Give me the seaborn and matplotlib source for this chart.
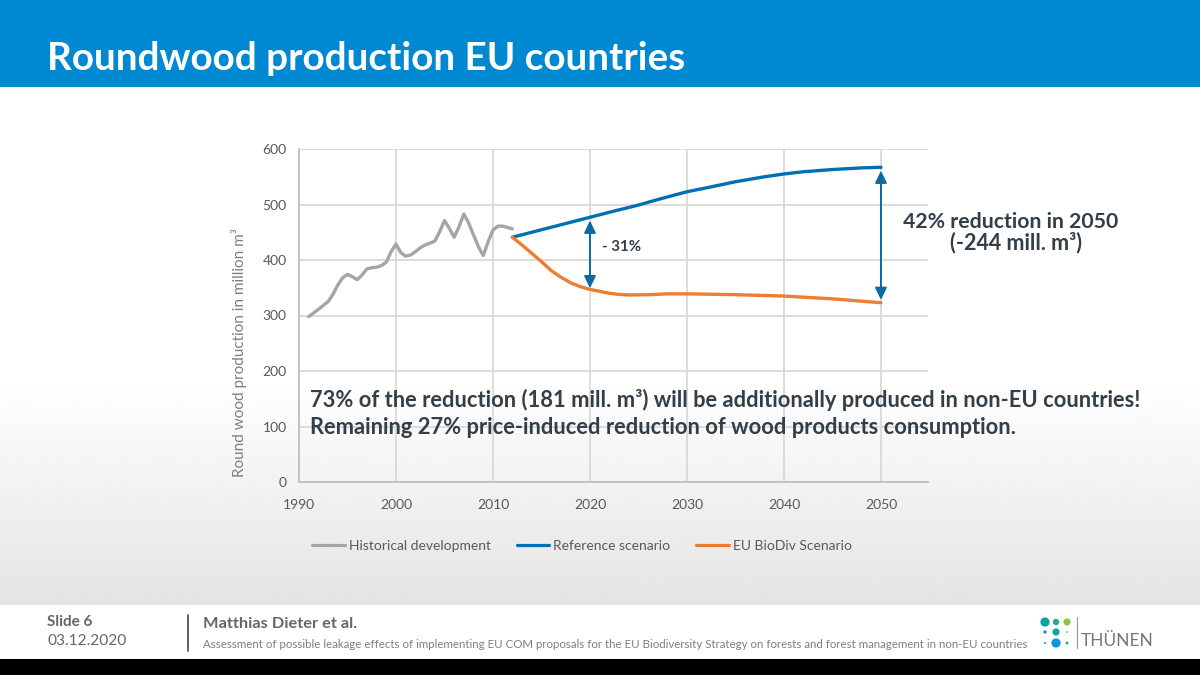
import numpy as np
import pandas as pd
import matplotlib
matplotlib.use("Agg")
import matplotlib.pyplot as plt
from matplotlib.lines import Line2D
from matplotlib.patches import Rectangle
import seaborn as sns

# values
hist_years = [1991, 1992, 1993, 1993.5, 1994, 1994.5, 1995, 1995.5, 1996, 1996.5, 1997, 1997.5, 1998, 1998.5,
              1999, 1999.5, 2000, 2000.5, 2001, 2001.5, 2002, 2002.5, 2003, 2004, 2004.5, 2005, 2005.5,
              2006, 2006.5, 2007, 2007.5, 2008, 2008.5, 2009, 2009.5, 2010, 2010.5, 2011, 2012]
hist_values = [298, 311, 325, 338, 355, 368, 374, 370, 364.5, 373, 384, 386, 387, 390,
               396, 415, 429, 413, 407, 409, 415, 422, 427, 434, 451, 471, 457,
               441, 460, 483, 466, 445, 424, 408, 433, 454, 461, 461, 456]
ref_years = [2012, 2016, 2020, 2022, 2025, 2027, 2030, 2032, 2035, 2038, 2040, 2042, 2045, 2048, 2050]
ref_values = [441, 459, 477, 486, 499, 509, 523, 530, 541, 550, 555, 559, 563, 566, 567]
bio_years = [2012, 2013, 2014, 2015, 2016, 2017, 2018, 2019, 2020, 2021, 2022, 2023, 2024, 2026, 2028,
             2030, 2035, 2040, 2045, 2050]
bio_values = [441, 427, 412, 397, 381, 369, 359, 352, 347, 343.5, 340, 338, 337, 337.5, 339,
              339, 337.5, 335, 330, 323]

series_names = ["Historical development", "Reference scenario", "EU BioDiv Scenario"]
series_colors = ["#a5a5a5", "#0070b4", "#ed7d31"]
x_ticks = [1990, 2000, 2010, 2020, 2030, 2040, 2050]
y_ticks = [0, 100, 200, 300, 400, 500, 600]

sns.set_theme(style="whitegrid")
plt.rcParams['font.family'] = ['Lato', 'DejaVu Sans']

df = pd.concat([
    pd.DataFrame({"year": hist_years, "value": hist_values, "series": series_names[0]}),
    pd.DataFrame({"year": ref_years, "value": ref_values, "series": series_names[1]}),
    pd.DataFrame({"year": bio_years, "value": bio_values, "series": series_names[2]}),
])

fig = plt.figure(figsize=(12, 6.75), dpi=100)

# slide background, in pixels
bg = fig.add_axes([0, 0, 1, 1])
grad = np.linspace(1, 0, 256).reshape(-1, 1)
bg.imshow(grad, extent=[0, 1200, 605, 380], aspect="auto", cmap="gray", vmin=-8.4, vmax=1, zorder=0)
bg.set_xlim(0, 1200)
bg.set_ylim(675, 0)
bg.axis("off")
bg.add_patch(Rectangle((0, 0), 1200, 87, color="#0089d2", lw=0, zorder=1))
bg.add_patch(Rectangle((0, 605), 1200, 54, color="white", lw=0, zorder=1))
bg.add_patch(Rectangle((0, 659), 1200, 16, color="black", lw=0, zorder=1))
bg.plot([188, 188], [615, 651], color="#555555", lw=1.3, zorder=2)
bg.plot([1077, 1077], [617, 648], color="#999999", lw=0.8, zorder=2)

# logo dots
logo_x = [1045, 1056, 1067, 1045, 1056, 1067, 1045, 1056, 1067]
logo_y = [622, 622, 622, 632, 632, 632, 643, 643, 643]
logo_r = [4.6, 3.2, 3.6, 1.7, 3.6, 0.8, 1.0, 4.6, 1.4]
logo_c = ["#0aa5a0", "#2ca58d", "#8cc63f", "#1f8fd0", "#10a5a0", "#1f8fd0", "#0a9fd0", "#0a96e0", "#10a5a5"]
bg.scatter(logo_x, logo_y, s=[(r * 1.44) ** 2 for r in logo_r], c=logo_c, lw=0, zorder=2)

bg.text(47, 59, "Roundwood production EU countries", color="white", fontsize=27.8, fontweight="bold", va="center", zorder=3)
bg.text(47, 622, "Slide 6", color="#666666", fontsize=11, fontweight="bold", va="center", zorder=3)
bg.text(47, 641, "03.12.2020", color="#666666", fontsize=11.2, va="center", zorder=3)
bg.text(203, 624, "Matthias Dieter et al.", color="#666666", fontsize=11.8, fontweight="bold", va="center", zorder=3)
bg.text(203, 644, "Assessment of possible leakage effects of implementing EU COM proposals for the EU Biodiversity Strategy on forests and forest management in non-EU countries",
        color="#7f7f7f", fontsize=8.31, va="center", zorder=3)
bg.text(1081, 641, "THÜNEN", color="#777777", fontsize=12.5, va="center", zorder=3)

# chart
ax = fig.add_axes([299 / 1200, (675 - 482) / 675, 629 / 1200, 333 / 675])
ax.patch.set_alpha(0)
sns.lineplot(data=df, x="year", y="value", hue="series", hue_order=series_names,
             palette=series_colors, sort=True, errorbar=None, linewidth=2.4, legend=False, ax=ax)
for line in ax.get_lines():
    line.set_solid_joinstyle("round")
    line.set_solid_capstyle("round")

ax.set_xlim(1990, 2054.85)
ax.set_ylim(0, 600)
ax.set_xticks(x_ticks)
ax.set_yticks(y_ticks)
ax.grid(True, color="#d9d9d9", lw=1.3)
ax.set_axisbelow(True)
for side in ["top", "right"]:
    ax.spines[side].set_visible(False)
for side in ["left", "bottom"]:
    ax.spines[side].set_color("#bfbfbf")
    ax.spines[side].set_linewidth(1.3)
ax.tick_params(axis="both", length=0, labelsize=10, labelcolor="#595959")
ax.tick_params(axis="x", pad=12)
ax.tick_params(axis="y", pad=9)
ax.set_xlabel("")
ax.set_ylabel("Round wood production in million m³", fontsize=11, color="#7f7f7f")
ax.yaxis.set_label_coords(-0.082, 0.39)

# difference arrows
arrow_color = "#0a6aa1"
for year, top, bottom in [(2020, 471, 349), (2050, 561, 328)]:
    ax.annotate("", xy=(year, top), xytext=(year, bottom),
                arrowprops=dict(arrowstyle="<|-|>,head_length=0.52,head_width=0.25", color=arrow_color,
                                lw=1.4, shrinkA=0, shrinkB=0, mutation_scale=14))

text_color = "#333f48"
ax.text(2021.2, 423, "- 31%", color=text_color, fontsize=10.8, fontweight="bold", va="center")
bg.text(1011, 222, "42% reduction in 2050", color=text_color, fontsize=15.3, fontweight="bold", ha="center", va="center", zorder=3)
bg.text(1016, 243, "(-244 mill. m³)", color=text_color, fontsize=15.5, fontweight="bold", ha="center", va="center", zorder=3)
fig.text(310 / 1200, 1 - 400 / 675, "73% of the reduction (181 mill. m³) will be additionally produced in non-EU countries!",
         color=text_color, fontsize=15.75, fontweight="bold", va="center")
fig.text(310 / 1200, 1 - 428 / 675, "Remaining 27% price-induced reduction of wood products consumption.",
         color=text_color, fontsize=15.75, fontweight="bold", va="center")

# legend
handles = [Line2D([0], [0], color=c, lw=2.3) for c in series_colors]
fig.legend(handles, series_names, loc="center", bbox_to_anchor=(582 / 1200, 1 - 546 / 675), ncol=3,
           frameon=False, fontsize=10, labelcolor="#595959", handlelength=2.35, handletextpad=0.3,
           columnspacing=1.85)

fig.savefig("out.png", dpi=100)
